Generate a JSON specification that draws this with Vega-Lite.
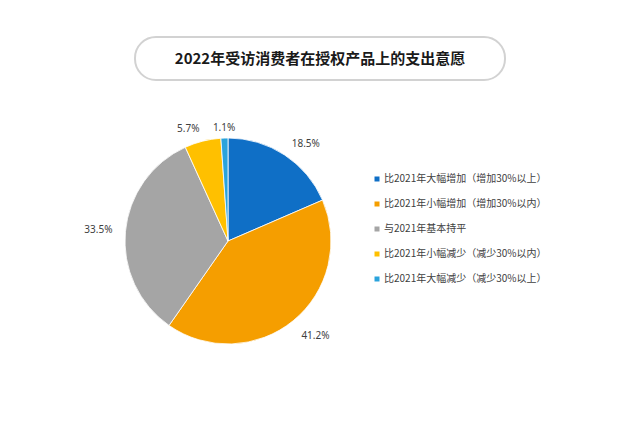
{
  "$schema": "https://vega.github.io/schema/vega-lite/v6.json",
  "background": "white",
  "padding": {"left": 84, "top": 36, "right": 10, "bottom": 10},
  "spacing": 42,
  "config": {"view": {"stroke": null}},
  "resolve": {"legend": {"color": "independent"}, "scale": {"color": "independent"}},
  "vconcat": [
    {
      "width": 370,
      "height": 43,
      "view": {"cornerRadius": 21, "stroke": "#d2d2d2", "strokeWidth": 2, "fill": "#ffffff"},
      "data": {"values": [{"title": "2022年受访消费者在授权产品上的支出意愿"}]},
      "mark": {"type": "text", "font": "Noto Sans CJK SC", "fontSize": 15, "fontWeight": "bold", "color": "#1a1a1a", "align": "center", "baseline": "middle"},
      "encoding": {"text": {"field": "title", "type": "nominal"}}
    },
    {
      "width": 186,
      "height": 186,
      "data": {"values": [
        {"category": "比2021年大幅增加（增加30%以上）", "value": 18.5},
        {"category": "比2021年小幅增加（增加30%以内）", "value": 41.2},
        {"category": "与2021年基本持平", "value": 33.5},
        {"category": "比2021年小幅减少（减少30%以内）", "value": 5.7},
        {"category": "比2021年大幅减少（减少30%以上）", "value": 1.1}
      ]},
      "transform": [
        {"window": [{"op": "row_number", "as": "rank"}]},
        {"stack": "value", "groupby": [], "sort": [{"field": "rank", "order": "ascending"}], "as": ["v0", "v1"]},
        {"calculate": "(datum.v0 + datum.v1) / 2", "as": "mid"},
        {"calculate": "format(datum.value, '.1f') + '%'", "as": "label"}
      ],
      "layer": [
        {
          "mark": {"type": "arc", "radius": 103, "stroke": "#ffffff", "strokeWidth": 0.8},
          "encoding": {
            "theta": {"field": "v0", "type": "quantitative", "stack": null, "scale": {"domain": [0, 100]}},
            "theta2": {"field": "v1"},
            "color": {
              "field": "category",
              "type": "nominal",
              "scale": {
                "domain": ["比2021年大幅增加（增加30%以上）", "比2021年小幅增加（增加30%以内）", "与2021年基本持平", "比2021年小幅减少（减少30%以内）", "比2021年大幅减少（减少30%以上）"],
                "range": ["#0F6FC6", "#F59E00", "#A5A5A5", "#FFC000", "#2AA3DC"]
              },
              "legend": {
                "title": null, "orient": "right", "offset": 25, "padding": 26,
                "symbolType": "square", "symbolSize": 25, "symbolStrokeWidth": 0,
                "labelFont": "Noto Sans CJK SC", "labelFontSize": 10, "labelColor": "#404040",
                "rowPadding": 15, "labelOffset": 2, "labelLimit": 400
              }
            }
          }
        },
        {
          "transform": [{"filter": "datum.rank == 1"}],
          "mark": {"type": "text", "radius": 116, "align": "left", "baseline": "middle", "font": "Noto Sans", "fontSize": 10, "color": "#404040"},
          "encoding": {"theta": {"field": "mid", "type": "quantitative", "stack": null}, "text": {"field": "label", "type": "nominal"}}
        },
        {
          "transform": [{"filter": "datum.rank == 2"}],
          "mark": {"type": "text", "radius": 116, "align": "left", "baseline": "top", "font": "Noto Sans", "fontSize": 10, "color": "#404040"},
          "encoding": {"theta": {"field": "mid", "type": "quantitative", "stack": null}, "text": {"field": "label", "type": "nominal"}}
        },
        {
          "transform": [{"filter": "datum.rank == 3 || datum.rank == 4"}],
          "mark": {"type": "text", "radius": 116, "align": "right", "baseline": "middle", "font": "Noto Sans", "fontSize": 10, "color": "#404040"},
          "encoding": {"theta": {"field": "mid", "type": "quantitative", "stack": null}, "text": {"field": "label", "type": "nominal"}}
        },
        {
          "transform": [{"filter": "datum.rank == 5"}],
          "mark": {"type": "text", "radius": 113, "align": "center", "baseline": "middle", "font": "Noto Sans", "fontSize": 10, "color": "#404040"},
          "encoding": {"theta": {"field": "mid", "type": "quantitative", "stack": null}, "text": {"field": "label", "type": "nominal"}}
        }
      ]
    }
  ]
}
